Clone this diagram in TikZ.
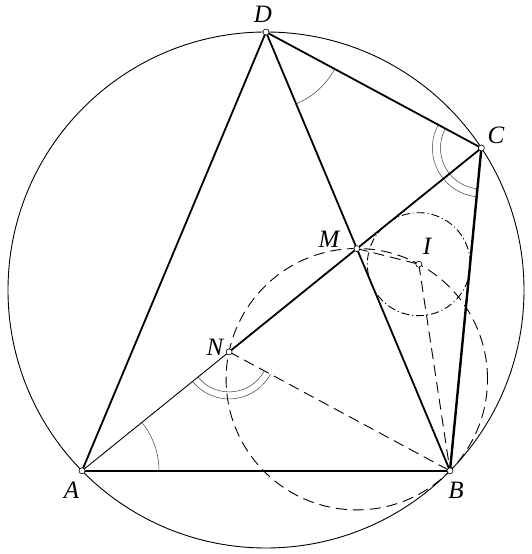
\documentclass[tikz,border=0pt]{standalone}
\usepackage{fontspec}
\setmainfont{Liberation Serif}
\begin{document}
\begin{tikzpicture}[x=1pt,y=1pt,
  circ/.style={line width=0.9pt},
  thinseg/.style={line width=0.9pt,line cap=round},
  seg/.style={line width=1.8pt,line cap=round},
  thickseg/.style={line width=2.4pt,line cap=round},
  dashline/.style={line width=0.9pt,dash pattern=on 11pt off 6pt},
  dashdotline/.style={line width=0.9pt,dash pattern=on 8pt off 3pt on 1pt off 3pt},
  anglemark/.style={line width=0.5pt,draw=black!75},
  pt/.style={circle,draw=black,fill=white,line width=0.6pt,inner sep=0pt,minimum size=6pt},
  lbl/.style={font=\fontsize{25}{25}\selectfont\itshape,inner sep=0pt}]
\useasboundingbox (0,0) rectangle (531,554);
\coordinate (O) at (266,264);
\coordinate (A) at (82,83.2);
\coordinate (B) at (450,83.2);
\coordinate (C) at (481.4,406);
\coordinate (D) at (266,522);
\coordinate (M) at (356.9,305.4);
\coordinate (N) at (229.1,202.1);
\coordinate (I) at (418.8,289.8);
\coordinate (Q) at (356.8,174.8);
% circles
\draw[circ] (O) circle[radius=258];
\draw[dashline] (Q) circle[radius=130.7];
\draw[dashdotline] (I) circle[radius=51.5];
% dashed segments
\draw[dashline] (N) -- (B);
\draw[dashline] (M) -- (I);
\draw[dashline] (I) -- (B);
% angle marks
\draw[anglemark] ([shift={(0:77)}]A) arc[start angle=0,end angle=38.95,radius=77];
\draw[anglemark] ([shift={(-67.25:78)}]D) arc[start angle=-67.25,end angle=-28.3,radius=78];
\draw[anglemark] ([shift={(151.7:41)}]C) arc[start angle=151.7,end angle=264.44,radius=41];
\draw[anglemark] ([shift={(151.7:49)}]C) arc[start angle=151.7,end angle=264.44,radius=49];
\draw[anglemark] ([shift={(218.95:40)}]N) arc[start angle=218.95,end angle=331.71,radius=40];
\draw[anglemark] ([shift={(218.95:47)}]N) arc[start angle=218.95,end angle=331.71,radius=47];
% segments
\draw[thinseg] (A) -- (N);
\draw[seg] (N) -- (C);
\draw[seg] (A) -- (B);
\draw[seg] (A) -- (D);
\draw[seg] (D) -- (B);
\draw[seg] (D) -- (C);
\draw[thickseg] (C) -- (B);
% points
\foreach \p in {A,B,C,D,M,N,I} \node[pt] (p\p) at (\p) {};
% labels
\node[lbl] (lD) at (263,539.5) {D};
\node[lbl] (lC) at (496,419) {C};
\node[lbl] (lM) at (329,315) {M};
\node[lbl] (lI) at (427,308) {I};
\node[lbl] (lN) at (215,207) {N};
\node[lbl] (lA) at (71.5,64) {A};
\node[lbl] (lB) at (456,64) {B};
\end{tikzpicture}
\end{document}
